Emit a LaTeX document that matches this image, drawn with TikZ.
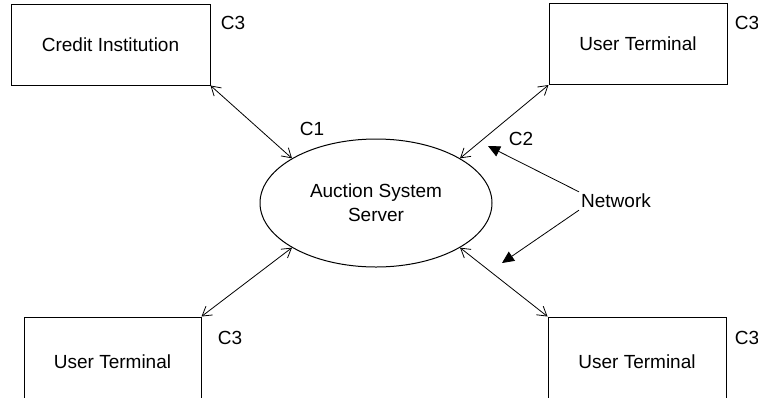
\documentclass[tikz,border=0pt]{standalone}
\usepackage{fontspec}
\setmainfont{Liberation Sans}
\usetikzlibrary{shapes.geometric,arrows.meta}
\begin{document}
\begin{tikzpicture}[x=1pt,y=-1pt,
  every node/.style={font=\fontsize{19}{24}\selectfont},
  box/.style={draw,line width=1pt,rectangle,inner sep=0pt},
  topbox/.style={box,minimum height=81pt},
  link/.style={line width=0.8pt,{Straight Barb[length=9pt,width=11pt,line width=0.8pt]}-{Straight Barb[length=9pt,width=11pt,line width=0.8pt]}},
  netarrow/.style={line width=0.8pt,-{Triangle[length=12pt,width=11pt]}},
  lbl/.style={inner sep=0pt}]
\useasboundingbox (0,0) rectangle (758,397);
\clip (0,0) rectangle (758,397);
\node[topbox,minimum width=199pt,text depth=-2pt] (ci) at (110.5,44.5) {Credit Institution};
\node[topbox,minimum width=178pt,text depth=-2pt] (ut1) at (638,44) {User Terminal};
\node[box,minimum width=177pt,minimum height=90pt] (ut2) at (112.5,362) {User Terminal};
\node[box,minimum width=178pt,minimum height=90pt] (ut3) at (637,362) {User Terminal};
\node[draw,line width=1pt,ellipse,minimum width=232pt,minimum height=128pt,inner sep=0pt,align=center] (srv) at (376,203) {Auction System\\Server};
\node[lbl] (c3a) at (233,23) {C3};
\node[lbl] (c3b) at (747,23) {C3};
\node[lbl] (c3c) at (230,338) {C3};
\node[lbl] (c3d) at (747,338) {C3};
\node[lbl] (c1) at (312,129) {C1};
\node[lbl] (c2) at (521,139) {C2};
\node[inner sep=2pt] (net) at (616,201) {Network};
\coordinate (tipA) at (488,146);
\coordinate (tipB) at (502,263);
\draw[link] (ci.south east) -- (srv.152);
\draw[link] (ut1.south west) -- (srv.28);
\draw[link] (ut2.north east) -- (srv.208);
\draw[link] (ut3.north west) -- (srv.332);
\draw[netarrow] (net.north west) -- (tipA);
\draw[netarrow] (net.south west) -- (tipB);
\end{tikzpicture}
\end{document}
